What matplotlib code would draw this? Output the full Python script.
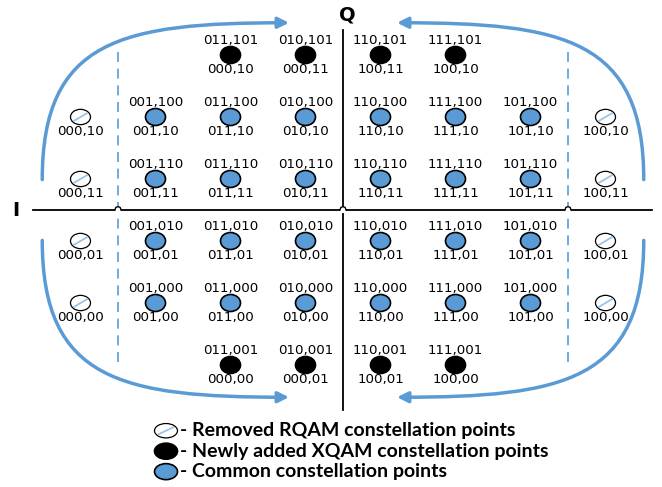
import matplotlib.pyplot as plt
from matplotlib.patches import Ellipse, FancyArrowPatch
from matplotlib.path import Path

# grid positions of the bit labels
col_pos = {'000': -3.5, '001': -2.5, '011': -1.5, '010': -0.5,
           '110': 0.5, '111': 1.5, '101': 2.5, '100': 3.5}
row_pos = {'101': 2.5, '100': 1.5, '110': 0.5, '010': -0.5, '000': -1.5, '001': -2.5}
row_pos2 = {'10': 1.5, '11': 0.5, '01': -0.5, '00': -1.5}

# common points (top label = XQAM, bottom label = RQAM)
common_top = ['001,100', '011,100', '010,100', '110,100', '111,100', '101,100',
              '001,110', '011,110', '010,110', '110,110', '111,110', '101,110',
              '001,010', '011,010', '010,010', '110,010', '111,010', '101,010',
              '001,000', '011,000', '010,000', '110,000', '111,000', '101,000']
common_bot = ['001,10', '011,10', '010,10', '110,10', '111,10', '101,10',
              '001,11', '011,11', '010,11', '110,11', '111,11', '101,11',
              '001,01', '011,01', '010,01', '110,01', '111,01', '101,01',
              '001,00', '011,00', '010,00', '110,00', '111,00', '101,00']

# newly added XQAM points
new_top = ['011,101', '010,101', '110,101', '111,101',
           '011,001', '010,001', '110,001', '111,001']
new_bot = ['000,10', '000,11', '100,11', '100,10',
           '000,00', '000,01', '100,01', '100,00']

# removed RQAM points
removed = ['000,10', '000,11', '000,01', '000,00',
           '100,10', '100,11', '100,01', '100,00']

legend_labels = ['- Removed RQAM constellation points',
                 '- Newly added XQAM constellation points',
                 '- Common constellation points']

blue = '#5B9BD5'
W, H = 20 / 75, 17 / 62   # marker size in grid units
dy = 0.235                # label offset

fig = plt.figure(figsize=(6.62, 4.87), dpi=100)
ax = fig.add_axes([0, 0, 1, 1])
ax.set_xlim(-343 / 75, (662 - 343) / 75)
ax.set_ylim((210 - 487) / 62, 210 / 62)
ax.axis('off')

# axes
ax.plot([-4.13, 4.12], [0, 0], color='black', lw=1.3, zorder=2)
ax.plot([0, 0], [2.9, -3.23], color='black', lw=1.3, zorder=2)
ax.text(-4.36, 0, 'I', fontsize=14, fontweight='bold', ha='center', va='center')
ax.text(0.06, 3.14, 'Q', fontsize=14, fontweight='bold', ha='center', va='center')

# dashed boundaries
for x in [-3.0, 3.0]:
    ax.plot([x, x], [2.55, -2.52], color=blue, lw=1.2, ls=(0, (6, 4)), zorder=1)

# little hops where lines cross the I axis
for x in [-3.0, 0.0, 3.0]:
    ax.add_patch(Ellipse((x, 0), 0.08, 0.1, facecolor='white', edgecolor='none', zorder=3))
    ax.plot([x - 0.04, x - 0.03, x, x + 0.03, x + 0.04], [0, 0.04, 0.055, 0.04, 0],
            color='black', lw=1.0, zorder=4)


def point(x, y, kind, w=W, h=H):
    if kind == 'common':
        ax.add_patch(Ellipse((x, y), w, h, facecolor=blue, edgecolor='black', lw=1.2, zorder=5))
    elif kind == 'new':
        ax.add_patch(Ellipse((x, y), w, h, facecolor='black', edgecolor='black', lw=1.2, zorder=5))
    else:
        ax.add_patch(Ellipse((x, y), w, h * 0.9, facecolor='white', edgecolor='black', lw=0.9, zorder=5))
        ax.plot([x - w * 0.32, x + w * 0.32], [y - h * 0.22, y + h * 0.22],
                color='#9DC3E6', lw=1.3, zorder=6)


lab_kw = dict(fontsize=9.6, ha='center', va='center')

for t, b in zip(common_top, common_bot):
    x, y = col_pos[t[:3]], row_pos[t[4:]]
    point(x, y, 'common')
    ax.text(x, y + dy, t, **lab_kw)
    ax.text(x, y - dy, b, **lab_kw)

for t, b in zip(new_top, new_bot):
    x, y = col_pos[t[:3]], row_pos[t[4:]]
    point(x, y, 'new')
    ax.text(x, y + dy, t, **lab_kw)
    ax.text(x, y - dy, b, **lab_kw)

for b in removed:
    x, y = col_pos[b[:3]], row_pos2[b[4:]]
    point(x, y, 'removed')
    ax.text(x, y - dy, b, **lab_kw)

# curved arrows
for sx in [-1, 1]:
    for sy in [-1, 1]:
        verts = [(sx * 4.01, sy * 0.49), (sx * 4.01, sy * 2.75),
                 (sx * 2.95, sy * 3.02), (sx * 0.72, sy * 3.02)]
        path = Path(verts, [Path.MOVETO, Path.CURVE4, Path.CURVE4, Path.CURVE4])
        ax.add_patch(FancyArrowPatch(path=path, arrowstyle='-|>', mutation_scale=16,
                                     color=blue, lw=2.5, zorder=2))

# legend
leg_y = [-3.56, -3.89, -4.22]
for kind, y, lab in zip(['removed', 'new', 'common'], leg_y, legend_labels):
    point(-2.36, y, kind, w=23 / 75, h=16 / 62)
    ax.text(-2.17, y, lab, fontsize=14, fontweight='bold', family='Lato',
            ha='left', va='center')

fig.savefig('out.png', dpi=100)
